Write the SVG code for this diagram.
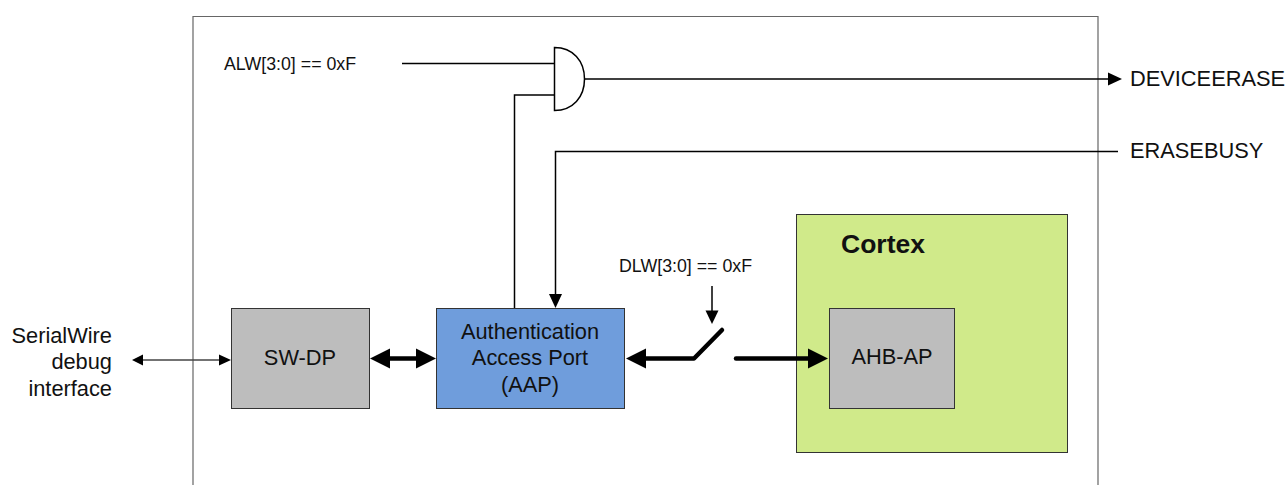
<svg xmlns="http://www.w3.org/2000/svg" width="1285" height="485" viewBox="0 0 1285 485">
<style>
text{font-family:"Liberation Sans",Arial,sans-serif;fill:#111}
.t20{font-size:21.8px}.t16{font-size:17.800px}
.box{stroke:#333;stroke-width:1}
.thin{fill:none;stroke:#000;stroke-width:1.5}
.thick{fill:none;stroke:#000;stroke-width:4.5;stroke-linecap:round;stroke-linejoin:round}
.head{fill:#000}
</style>
<rect width="1285" height="485" fill="#fff"/>
<path id="boundary" d="M193 485V16.500H1098V485" fill="none" stroke="#666" stroke-width="1.200"/>
<g id="cortex"><rect class="box" x="796.500" y="214.500" width="271" height="238" fill="#d0ea8a" stroke="#555"/><text x="841" y="253" font-size="26.500" font-weight="700">Cortex</text></g>
<g id="sw-dp"><rect class="box" x="231.500" y="308.500" width="138" height="100" fill="#bdbdbd"/><text class="t20" x="300" y="365" text-anchor="middle">SW-DP</text></g>
<g id="aap"><rect class="box" x="436.500" y="308.500" width="188" height="100" fill="#6f9ddc"/><text class="t20" x="530" y="339" text-anchor="middle">Authentication</text><text class="t20" x="530" y="365" text-anchor="middle">Access Port</text><text class="t20" x="530" y="392" text-anchor="middle">(AAP)</text></g>
<g id="ahb-ap"><rect class="box" x="829.500" y="308.500" width="125" height="100" fill="#bdbdbd"/><text class="t20" x="892" y="364" text-anchor="middle">AHB-AP</text></g>
<g id="and-gate"><path d="M554.500 47.500C573 47.500 584.500 61 584.500 79C584.500 97 573 110.500 554.500 110.500Z" fill="#fff" stroke="#000" stroke-width="1.500"/></g>
<g id="labels">
<text class="t16" x="224" y="70">ALW[3:0] == 0xF</text>
<text class="t16" x="619" y="272">DLW[3:0] == 0xF</text>
<text class="t20" x="1130" y="86">DEVICEERASE</text>
<text class="t20" x="1130" y="158">ERASEBUSY</text>
<text class="t20" x="112" y="343" text-anchor="end">SerialWire</text>
<text class="t20" x="112" y="369" text-anchor="end">debug</text>
<text class="t20" x="112" y="396" text-anchor="end">interface</text>
</g>
<g id="connectors">
<path class="thin" d="M402 63.500H554.500"/>
<path class="thin" d="M514.500 308V95H554.500"/>
<path class="thin" d="M584.500 79H1110"/>
<path class="head" d="M1122 79L1108 72.500V85.500Z"/>
<path class="thin" d="M1118 151.500H555.500V296"/>
<path class="head" d="M555.500 308L549 294H562Z"/>
<path class="thin" d="M712 286V314"/>
<path class="head" d="M712 324L705.500 310.500H718.500Z"/>
<path d="M140 360H222" fill="none" stroke="#444" stroke-width="1.300"/>
<path class="head" d="M132 360L143 354.500V365.500Z"/>
<path class="head" d="M231 360L219 354.500V365.500Z"/>
<path class="thick" d="M385 358.500H420" style="stroke-linecap:butt"/>
<path class="head" d="M370 358.500L390 348.500V368.500Z"/>
<path class="head" d="M436 358.500L416 348.500V368.500Z"/>
<path class="thick" d="M722 330L694 358.500H640"/>
<path class="head" d="M626 358.500L646 348.500V368.500Z"/>
<path class="thick" d="M736 358.500H812"/>
<path class="head" d="M828 358.500L808 348.500V368.500Z"/>
</g>
</svg>
